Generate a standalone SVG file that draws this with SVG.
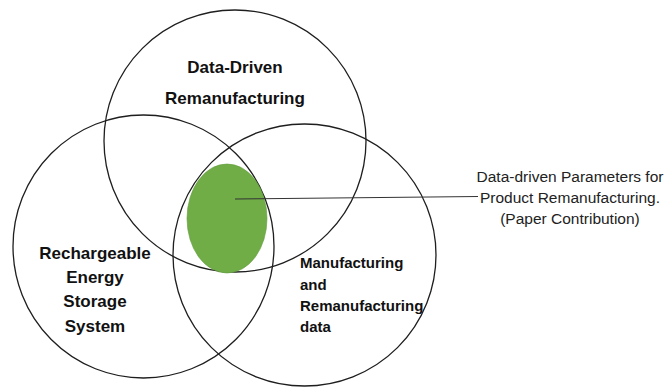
<svg xmlns="http://www.w3.org/2000/svg" width="666" height="387" viewBox="0 0 666 387">
  <style>
    .set { fill: none; stroke: #1e1e1e; stroke-width: 1.3; }
    .title { font-family: "Liberation Sans", Arial, sans-serif; font-weight: bold; fill: #111; }
    .note { font-family: "Liberation Sans", Arial, sans-serif; font-size: 15.5px; fill: #222; text-anchor: middle; }
    .conn { stroke: #333; stroke-width: 1; fill: none; }
  </style>
  <rect width="666" height="387" fill="#ffffff"/>
  <g id="set-data-driven">
    <ellipse class="set" cx="235" cy="141" rx="131" ry="131"/>
    <text class="title" font-size="17" text-anchor="middle"><tspan x="235" y="73">Data-Driven</tspan><tspan x="235" y="104">Remanufacturing</tspan></text>
  </g>
  <g id="set-ress">
    <ellipse class="set" cx="143.5" cy="246.5" rx="130.5" ry="131.5"/>
    <text class="title" font-size="17" text-anchor="middle"><tspan x="95" y="259">Rechargeable</tspan><tspan x="95" y="283">Energy</tspan><tspan x="95" y="307">Storage</tspan><tspan x="95" y="332">System</tspan></text>
  </g>
  <g id="set-manufacturing">
    <ellipse class="set" cx="304.5" cy="255" rx="131.5" ry="131"/>
    <text class="title" font-size="15"><tspan x="300" y="268">Manufacturing</tspan><tspan x="300" y="289.5">and</tspan><tspan x="300" y="311">Remanufacturing</tspan><tspan x="300" y="332">data</tspan></text>
  </g>
  <g id="intersection">
    <ellipse cx="227" cy="218.5" rx="40" ry="54.5" fill="#70AD47" stroke="#5f9a3b" stroke-width="0.6"/>
  </g>
  <g id="connectors">
    <line class="conn" x1="235" y1="199" x2="478" y2="196.5"/>
  </g>
  <g id="label-contribution">
    <text class="note"><tspan x="570" y="182">Data-driven Parameters for</tspan><tspan x="570" y="203">Product Remanufacturing.</tspan><tspan x="570" y="224">(Paper Contribution)</tspan></text>
  </g>
</svg>
